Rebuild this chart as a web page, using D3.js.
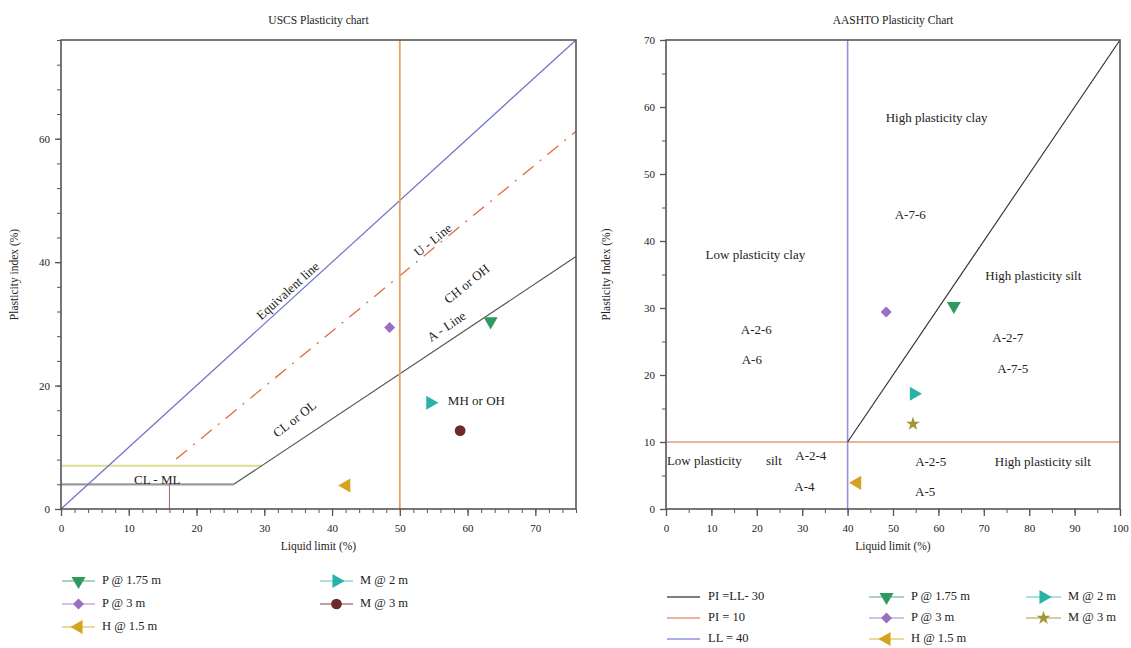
<!DOCTYPE html>
<html>
<head>
<meta charset="utf-8">
<script src="https://cdn.jsdelivr.net/npm/d3@7"></script>
<style>
  body { margin:0; background:#fff; }
  svg text { font-family: "Liberation Serif", "DejaVu Serif", serif; fill:#222; }
</style>
</head>
<body>
<svg width="1131" height="648"></svg>
<script>
// ---- data ----
var seriesNames = ["P @ 1.75 m", "P @ 3 m", "H @ 1.5 m", "M @ 2 m", "M @ 3 m"];
var usLL = [63.4, 48.5, 42.1, 54.5, 58.9];
var usPI = [30.4, 29.4, 3.8, 17.2, 12.7];
var aaLL = [63.4, 48.5, 42.1, 54.6, 54.4];
var aaPI = [30.3, 29.4, 3.9, 17.2, 12.7];

var usTicksX = [0, 10, 20, 30, 40, 50, 60, 70];
var usTicksY = [0, 20, 40, 60];
var aaTicksX = [0, 10, 20, 30, 40, 50, 60, 70, 80, 90, 100];
var aaTicksY = [0, 10, 20, 30, 40, 50, 60, 70];

// USCS reference lines [LL, PI]
var equivLine = [[0, 0], [76, 76]];
var uLine = [[17, 8.1], [76, 61.2]];
var uFoot = [[16, 0], [16, 4]];
var aLine = [[0, 4], [25.5, 4], [76, 40.9]];
var pi7Line = [[0, 7], [29.6, 7]];
var ll50Line = [[50, 0], [50, 76]];

// AASHTO reference lines
var piLL30 = [[40, 10], [100, 70]];
var pi10 = [[0, 10], [100, 10]];
var ll40 = [[40, 0], [40, 70]];

// region labels [text, LL, PI, rotation]
var usLabels = [
  ["Equivalent line", 33.6, 35.2, -42],
  ["U - Line", 55.0, 43.4, -39],
  ["CH or OH", 60.0, 36.3, -39],
  ["A - Line", 57.0, 29.4, -34],
  ["CL or OL", 34.6, 14.4, -38],
  ["MH or OH", 61.3, 17.3, 0],
  ["CL - ML", 14.2, 4.6, 0]
];
var aaLabels = [
  ["High plasticity clay", 59.6, 58.2],
  ["A-7-6", 53.8, 43.8],
  ["Low plasticity clay", 19.7, 37.8],
  ["High plasticity silt", 80.9, 34.6],
  ["A-2-6", 19.9, 26.6],
  ["A-6", 18.9, 22.1],
  ["A-2-7", 75.3, 25.3],
  ["A-7-5", 76.4, 20.8],
  ["A-2-4", 31.9, 7.7],
  ["A-4", 30.5, 3.1],
  ["A-2-5", 58.3, 6.9],
  ["A-5", 57.1, 2.4],
  ["High plasticity silt", 83.0, 6.9]
];

var colors = ["#2f9a5f", "#9a6fc2", "#d6a31f", "#28b3a8", "#6e2a2a"];
var aaColors = ["#2f9a5f", "#9a6fc2", "#d6a31f", "#28b3a8", "#a39634"];
var lineColors = ["#8fc4a4", "#c6aee0", "#e6cc7a", "#8fd6d0", "#a88080"];
var aaLineColors = ["#8fc4a4", "#c6aee0", "#e6cc7a", "#8fd6d0", "#c4bc80"];

var svg = d3.select("svg");

function marker(i, star) {
  switch (i) {
    case 0: return {type: d3.symbolTriangle, rot: 180, size: 85};
    case 1: return {type: d3.symbolSquare, rot: 45, size: 60};
    case 2: return {type: d3.symbolTriangle, rot: -90, size: 85};
    case 3: return {type: d3.symbolTriangle, rot: 90, size: 85};
    default:
      return star ? {type: d3.symbolStar, rot: 0, size: 60} : {type: d3.symbolCircle, rot: 0, size: 90};
  }
}

function drawMarker(g, i, x, y, fill, star) {
  var m = marker(i, star);
  g.append("path")
    .attr("d", d3.symbol().type(m.type).size(m.size)())
    .attr("transform", "translate(" + x + "," + y + ") rotate(" + m.rot + ")")
    .attr("fill", fill);
}

function axes(g, x, y, tx, ty, minX, minY, xLab, yLab, title, yLabX) {
  var x0 = x.range()[0], x1 = x.range()[1], y0 = y.range()[0], y1 = y.range()[1];
  g.append("g").attr("transform", "translate(0," + y0 + ")")
    .call(d3.axisBottom(x).tickValues(minX).tickSize(4).tickFormat(""))
    .call(function(a) { a.select(".domain").remove(); a.selectAll("line").attr("stroke", "#555"); });
  g.append("g").attr("transform", "translate(" + x0 + ",0)")
    .call(d3.axisLeft(y).tickValues(minY).tickSize(4).tickFormat(""))
    .call(function(a) { a.select(".domain").remove(); a.selectAll("line").attr("stroke", "#555"); });
  var ax = g.append("g").attr("transform", "translate(0," + y0 + ")")
    .call(d3.axisBottom(x).tickValues(tx).tickSize(7).tickPadding(8));
  var ay = g.append("g").attr("transform", "translate(" + x0 + ",0)")
    .call(d3.axisLeft(y).tickValues(ty).tickSize(6).tickPadding(5));
  [ax, ay].forEach(function(a) {
    a.select(".domain").remove();
    a.selectAll("line").attr("stroke", "#555").attr("stroke-width", 1.3);
    a.selectAll("text").attr("font-family", "Liberation Serif, serif").attr("font-size", 11).attr("fill", "#333");
  });
  g.append("rect").attr("x", x0).attr("y", y1).attr("width", x1 - x0).attr("height", y0 - y1)
    .attr("fill", "none").attr("stroke", "#555").attr("stroke-width", 1.6);
  g.append("text").attr("x", (x0 + x1) / 2).attr("y", 547).attr("text-anchor", "middle")
    .attr("dominant-baseline", "middle").attr("font-size", 11.5).text(xLab);
  g.append("text").attr("transform", "translate(" + yLabX + "," + ((y0 + y1) / 2) + ") rotate(-90)")
    .attr("text-anchor", "middle").attr("font-size", 11.5).text(yLab);
  g.append("text").attr("x", (x0 + x1) / 2).attr("y", 24).attr("text-anchor", "middle")
    .attr("font-size", 11.5).text(title);
}

function range(a, b, s) { return d3.range(a, b + 0.001, s); }

// ================= USCS chart =================
var ux = d3.scaleLinear().domain([0, 76]).range([61, 576]);
var uy = d3.scaleLinear().domain([0, 76]).range([509, 40]);
var gu = svg.append("g");
var ul = d3.line().x(function(d) { return ux(d[0]); }).y(function(d) { return uy(d[1]); });

gu.append("path").attr("d", ul(pi7Line)).attr("stroke", "#dede90").attr("stroke-width", 2).attr("fill", "none");
gu.append("path").attr("d", ul(aLine.slice(0, 2))).attr("stroke", "#9a9a9a").attr("stroke-width", 2.2).attr("fill", "none");
gu.append("path").attr("d", ul(aLine.slice(1))).attr("stroke", "#555").attr("stroke-width", 1.2).attr("fill", "none");
gu.append("path").attr("d", ul(uFoot)).attr("stroke", "#b06060").attr("stroke-width", 1).attr("fill", "none");
gu.append("path").attr("d", ul(uLine)).attr("stroke", "#e06a40").attr("stroke-width", 1.3)
  .attr("stroke-dasharray", "14,8,2,8").attr("fill", "none");
gu.append("path").attr("d", ul(equivLine)).attr("stroke", "#6f72c4").attr("stroke-width", 1.2).attr("fill", "none");
gu.append("path").attr("d", ul(ll50Line)).attr("stroke", "#e8a262").attr("stroke-width", 1.8).attr("fill", "none");

axes(gu, ux, uy, usTicksX, usTicksY, range(0, 76, 2), range(0, 76, 4),
  "Liquid limit (%)", "Plasticity index (%)", "USCS Plasticity chart", 18);

usLabels.forEach(function(l) {
  gu.append("text").attr("transform", "translate(" + ux(l[1]) + "," + uy(l[2]) + ") rotate(" + l[3] + ")")
    .attr("text-anchor", "middle").attr("dominant-baseline", "middle").attr("font-size", 13).text(l[0]);
});

seriesNames.forEach(function(n, i) {
  drawMarker(gu, i, ux(usLL[i]), uy(usPI[i]), colors[i], false);
});

// USCS legend
var ulegPos = [[62, 581], [62, 604], [62, 627], [320, 581], [320, 604]];
seriesNames.forEach(function(n, i) {
  var p = ulegPos[i];
  gu.append("line").attr("x1", p[0]).attr("x2", p[0] + 33).attr("y1", p[1]).attr("y2", p[1])
    .attr("stroke", lineColors[i]).attr("stroke-width", 1.5);
  drawMarker(gu, i, p[0] + 16.5, p[1], colors[i], false);
  gu.append("text").attr("x", p[0] + 40).attr("y", p[1]).attr("dominant-baseline", "middle")
    .attr("font-size", 12.5).text(n);
});

// ================= AASHTO chart =================
var ax = d3.scaleLinear().domain([0, 100]).range([666, 1120]);
var ay = d3.scaleLinear().domain([0, 70]).range([509, 40]);
var ga = svg.append("g");
var al = d3.line().x(function(d) { return ax(d[0]); }).y(function(d) { return ay(d[1]); });

ga.append("path").attr("d", al(pi10)).attr("stroke", "#e29a80").attr("stroke-width", 1.3).attr("fill", "none");
ga.append("path").attr("d", al(ll40)).attr("stroke", "#8e95dc").attr("stroke-width", 1.6).attr("fill", "none");
ga.append("path").attr("d", al(piLL30)).attr("stroke", "#333").attr("stroke-width", 1.2).attr("fill", "none");

axes(ga, ax, ay, aaTicksX, aaTicksY, range(0, 100, 5), range(0, 70, 5),
  "Liquid limit (%)", "Plasticity Index (%)", "AASHTO Plasticity Chart", 610);

aaLabels.forEach(function(l) {
  ga.append("text").attr("x", ax(l[1])).attr("y", ay(l[2]))
    .attr("text-anchor", "middle").attr("dominant-baseline", "middle").attr("font-size", 13).text(l[0]);
});
ga.append("text").attr("x", ax(0.2)).attr("y", ay(7.0)).attr("dominant-baseline", "middle")
  .attr("font-size", 13).text("Low plasticity");
ga.append("text").attr("x", ax(22)).attr("y", ay(7.0)).attr("dominant-baseline", "middle")
  .attr("font-size", 13).text("silt");

seriesNames.forEach(function(n, i) {
  drawMarker(ga, i, ax(aaLL[i]), ay(aaPI[i]), aaColors[i], true);
});

// AASHTO legend
var refNames = ["PI =LL- 30", "PI = 10", "LL = 40"];
var refColors = ["#555", "#e29a80", "#8e95dc"];
refNames.forEach(function(n, i) {
  var y = 597 + i * 21;
  ga.append("line").attr("x1", 667).attr("x2", 700).attr("y1", y).attr("y2", y)
    .attr("stroke", refColors[i]).attr("stroke-width", 1.5);
  ga.append("text").attr("x", 708).attr("y", y).attr("dominant-baseline", "middle")
    .attr("font-size", 12.5).text(n);
});
var alegPos = [[869, 597], [869, 618], [869, 639], [1026, 597], [1026, 618]];
seriesNames.forEach(function(n, i) {
  var p = alegPos[i];
  ga.append("line").attr("x1", p[0]).attr("x2", p[0] + 35).attr("y1", p[1]).attr("y2", p[1])
    .attr("stroke", aaLineColors[i]).attr("stroke-width", 1.5);
  drawMarker(ga, i, p[0] + 17.5, p[1], aaColors[i], true);
  ga.append("text").attr("x", p[0] + 42).attr("y", p[1]).attr("dominant-baseline", "middle")
    .attr("font-size", 12.5).text(n);
});
</script>
</body>
</html>
